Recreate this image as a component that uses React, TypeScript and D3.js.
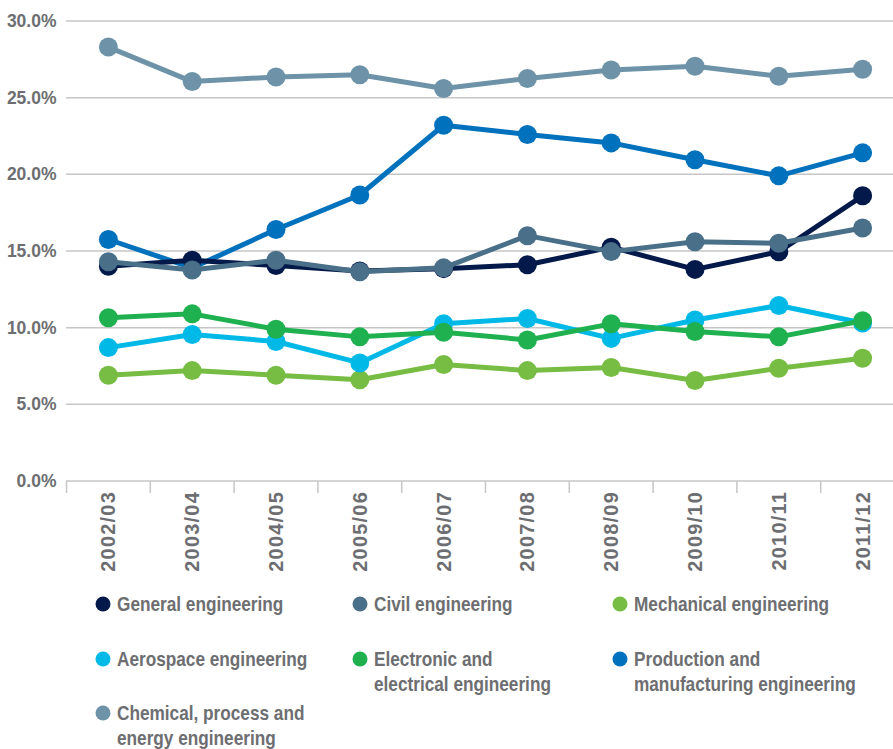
import React from 'react';
import * as d3 from 'd3';

const years = ['2002/03', '2003/04', '2004/05', '2005/06', '2006/07', '2007/08', '2008/09', '2009/10', '2010/11', '2011/12'];
const general = [14.0, 14.4, 14.05, 13.7, 13.85, 14.1, 15.25, 13.8, 14.95, 18.6];
const civil = [14.3, 13.76, 14.4, 13.65, 13.9, 16.0, 14.96, 15.6, 15.5, 16.5];
const mechanical = [6.9, 7.2, 6.9, 6.6, 7.6, 7.2, 7.4, 6.55, 7.35, 8.0];
const aerospace = [8.7, 9.55, 9.1, 7.7, 10.25, 10.6, 9.3, 10.5, 11.45, 10.3];
const electronic = [10.65, 10.9, 9.9, 9.4, 9.7, 9.2, 10.25, 9.75, 9.4, 10.45];
const production = [15.75, 13.9, 16.4, 18.65, 23.2, 22.6, 22.05, 20.95, 19.9, 21.4];
const chemical = [28.3, 26.05, 26.35, 26.5, 25.6, 26.25, 26.8, 27.05, 26.4, 26.85];
const yTicks = [0, 5, 10, 15, 20, 25, 30];

const seriesList = [
  { key: 'general', label: ['General engineering'], values: general, color: '#03194a' },
  { key: 'civil', label: ['Civil engineering'], values: civil, color: '#4a6f88' },
  { key: 'mechanical', label: ['Mechanical engineering'], values: mechanical, color: '#77bc43' },
  { key: 'aerospace', label: ['Aerospace engineering'], values: aerospace, color: '#00b9e7' },
  { key: 'electronic', label: ['Electronic and', 'electrical engineering'], values: electronic, color: '#1fb04f' },
  { key: 'production', label: ['Production and', 'manufacturing engineering'], values: production, color: '#0071bc' },
  { key: 'chemical', label: ['Chemical, process and', 'energy engineering'], values: chemical, color: '#6e93a8' },
];
const drawOrder = ['chemical', 'production', 'general', 'civil', 'mechanical', 'aerospace', 'electronic'];

const W = 893;
const H = 749;
const textColor = '#6d6e71';
const font = "'Liberation Sans', Arial, sans-serif";

export default function App() {
  const x = d3.scaleBand<string>().domain(years).range([66.5, 904.5]);
  const y = d3.scaleLinear().domain([0, 30]).range([481, 21]);
  const line = d3
    .line<number>()
    .x((_, i) => (x(years[i]) as number) + x.bandwidth() / 2)
    .y((d) => y(d));

  const legendCols = [103, 360, 620];
  const legendRows = [604, 659, 713];

  return (
    <svg width={W} height={H} style={{ position: 'absolute', left: 0, top: 0, background: '#fff' }}>
      {yTicks.map((t) => (
        <g key={t}>
          {t > 0 && <line x1={66} x2={W} y1={y(t)} y2={y(t)} stroke="#c6c6c8" strokeWidth={1.5} />}
          <text
            x={56.5}
            y={y(t)}
            textAnchor="end"
            dominantBaseline="central"
            fontFamily={font}
            fontWeight="bold"
            fontSize={17.5}
            fill={textColor}
          >
            {t.toFixed(1) + '%'}
          </text>
        </g>
      ))}
      <line x1={66} x2={W} y1={y(0)} y2={y(0)} stroke="#c6c6c8" strokeWidth={1.5} />
      {years.map((yr) => (
        <line key={'t' + yr} x1={x(yr) as number} x2={x(yr) as number} y1={y(0)} y2={y(0) + 12} stroke="#c6c6c8" strokeWidth={1.5} />
      ))}
      {years.map((yr) => {
        const cx = (x(yr) as number) + x.bandwidth() / 2;
        return (
          <text
            key={'l' + yr}
            transform={`translate(${cx + 7},${491}) rotate(-90)`}
            textAnchor="end"
            fontFamily={font}
            fontWeight="bold"
            fontSize={20}
            letterSpacing={1.2}
            fill={textColor}
          >
            {yr}
          </text>
        );
      })}
      {drawOrder.map((k) => {
        const s = seriesList.find((d) => d.key === k)!;
        return (
          <g key={k}>
            <path d={line(s.values) || ''} fill="none" stroke={s.color} strokeWidth={5} strokeLinejoin="round" />
            {s.values.map((v, i) => (
              <circle key={i} cx={(x(years[i]) as number) + x.bandwidth() / 2} cy={y(v)} r={9.5} fill={s.color} />
            ))}
          </g>
        );
      })}
      {seriesList.map((s, i) => {
        const col = i % 3;
        const row = Math.floor(i / 3);
        const cx = legendCols[col];
        const cy = legendRows[row];
        return (
          <g key={'lg' + s.key}>
            <circle cx={cx} cy={cy} r={7.5} fill={s.color} />
            {s.label.map((ln, j) => (
              <text
                key={j}
                transform={`translate(${cx + 14},${cy + j * 25}) scale(0.82,1)`}
                dominantBaseline="central"
                fontFamily={font}
                fontWeight="bold"
                fontSize={21}
                fill={textColor}
              >
                {ln}
              </text>
            ))}
          </g>
        );
      })}
    </svg>
  );
}
